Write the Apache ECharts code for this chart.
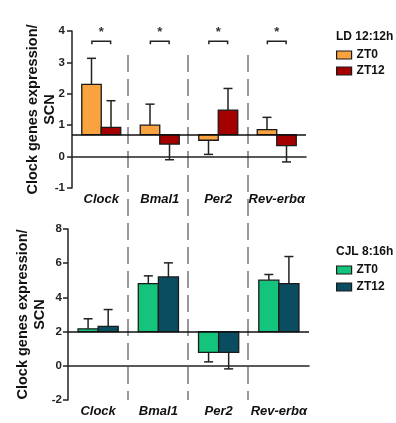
<!DOCTYPE html>
<html>
<head>
<meta charset="utf-8">
<script src="https://cdn.jsdelivr.net/npm/echarts@6/dist/echarts.min.js"></script>
<style>
  html, body { margin: 0; padding: 0; background: #fff; }
  #chart { width: 396px; height: 423px; }
</style>
</head>
<body>
<div id="chart"></div>
<script>
// categories
var categories = ['Clock', 'Bmal1', 'Per2', 'Rev-erbα'];

// LD 12:12h (top panel), baseline 0.7
var ldBase = 0.7;
var ldZT0 = [2.3, 1.0, 0.52, 0.86];
var ldZT0Err = [3.13, 1.67, 0.07, 1.25];
var ldZT12 = [0.93, 0.4, 1.48, 0.35];
var ldZT12Err = [1.78, -0.1, 2.17, -0.17];
var ldSig = [3.67, 3.67, 3.67, 3.67];

// CJL 8:16h (bottom panel), baseline 2
var cjlBase = 2;
var cjlZT0 = [2.16, 4.8, 0.78, 5.01];
var cjlZT0Err = [2.75, 5.26, 0.23, 5.34];
var cjlZT12 = [2.3, 5.2, 0.78, 4.8];
var cjlZT12Err = [3.29, 6.02, -0.18, 6.39];

var FONT = 'Liberation Sans, Arial, sans-serif';

function rows(vals, errs) {
  var out = [];
  for (var i = 0; i < vals.length; i++) {
    out.push([i, vals[i], errs[i]]);
  }
  return out;
}

// bar drawn from a baseline, with one-sided error bar
function barRender(side, base, color) {
  return function(params, api) {
    var i = api.value(0), v = api.value(1), e = api.value(2);
    var band = api.size([1, 0])[0];
    var w = band / 3;
    var p0 = api.coord([i, base]);
    var p1 = api.coord([i, v]);
    var pe = api.coord([i, e]);
    var x = side < 0 ? p0[0] - w : p0[0];
    var cx = x + w / 2;
    return {
      type: 'group',
      children: [{
        type: 'line',
        shape: { x1: cx, y1: p1[1], x2: cx, y2: pe[1] },
        style: { stroke: '#222', lineWidth: 1.5 }
      }, {
        type: 'line',
        shape: { x1: cx - 4.5, y1: pe[1], x2: cx + 4.5, y2: pe[1] },
        style: { stroke: '#222', lineWidth: 1.5 }
      }, {
        type: 'rect',
        shape: { x: x, y: Math.min(p0[1], p1[1]), width: w, height: Math.abs(p1[1] - p0[1]) },
        style: { fill: color, stroke: '#1a1a1a', lineWidth: 1.3 }
      }]
    };
  };
}

// significance bracket with star
function sigRender(params, api) {
  var i = api.value(0), v = api.value(1);
  var band = api.size([1, 0])[0];
  var half = band * 0.16;
  var p = api.coord([i, v]);
  return {
    type: 'group',
    children: [{
      type: 'polyline',
      shape: { points: [[p[0] - half, p[1] + 3], [p[0] - half, p[1]], [p[0] + half, p[1]], [p[0] + half, p[1] + 3]] },
      style: { stroke: '#222', lineWidth: 1.5, fill: null }
    }, {
      type: 'text',
      style: { text: '*', x: p[0], y: p[1] - 2, align: 'center', verticalAlign: 'bottom', fontSize: 13, fontWeight: 'bold', fontFamily: FONT, fill: '#333' }
    }]
  };
}

function baseLine(base) {
  return {
    silent: true,
    symbol: 'none',
    label: { show: false },
    lineStyle: { color: '#111', type: 'solid', width: 1.5 },
    data: [{ yAxis: base }]
  };
}

function xAx(gi) {
  return {
    type: 'category', gridIndex: gi, data: categories,
    axisLine: { lineStyle: { color: '#222', width: 1.5 } },
    axisTick: { alignWithLabel: true, length: 4, lineStyle: { color: '#222', width: 1.5 } },
    axisLabel: { interval: 0, color: '#111', fontSize: 13, fontWeight: 'bold', fontStyle: 'italic', fontFamily: FONT, margin: 5 },
    splitLine: { show: false }
  };
}

function yAx(gi, min, max, interval, gap, margin) {
  return {
    type: 'value', gridIndex: gi, min: min, max: max, interval: interval,
    name: 'Clock genes expression/\nSCN',
    nameLocation: 'middle', nameRotate: 90, nameGap: gap, nameMoveOverlap: false,
    nameTextStyle: { color: '#111', fontSize: 14.5, fontWeight: 'bold', fontFamily: FONT, lineHeight: 17 },
    axisLine: { show: true, lineStyle: { color: '#222', width: 1.5 } },
    axisTick: { show: true, length: 5, lineStyle: { color: '#222', width: 1.5 } },
    axisLabel: { color: '#222', fontSize: 11.5, fontWeight: 'bold', fontFamily: FONT, margin: margin },
    splitLine: { show: false }
  };
}

var chart = echarts.init(document.getElementById('chart'));
chart.setOption({
  animation: false,
  backgroundColor: '#fff',
  title: [{
    text: 'LD 12:12h', left: 331, top: 26,
    textStyle: { fontSize: 12, fontWeight: 'bold', fontFamily: FONT, color: '#111' }
  }, {
    text: 'CJL 8:16h', left: 331, top: 241,
    textStyle: { fontSize: 12, fontWeight: 'bold', fontFamily: FONT, color: '#111' }
  }],
  legend: [{
    data: ['ZT0', 'ZT12'], orient: 'vertical', left: 331, top: 44,
    itemWidth: 15, itemHeight: 8, itemGap: 4, icon: 'rect',
    itemStyle: { borderColor: '#1a1a1a', borderWidth: 1.2 },
    textStyle: { fontSize: 12, fontWeight: 'bold', fontFamily: FONT, color: '#111' },
    selectedMode: false
  }, {
    data: ['CJL ZT0', 'CJL ZT12'], orient: 'vertical', left: 331, top: 259,
    itemWidth: 15, itemHeight: 8, itemGap: 5, icon: 'rect',
    itemStyle: { borderColor: '#1a1a1a', borderWidth: 1.2 },
    formatter: function(n) { return n.replace('CJL ', ''); },
    textStyle: { fontSize: 12, fontWeight: 'bold', fontFamily: FONT, color: '#111' },
    selectedMode: false
  }],
  grid: [
    { left: 72, top: 31, width: 234, height: 157 },
    { left: 68, top: 229, width: 241, height: 171 },
    { left: 128, top: 55, width: 120, height: 345 }
  ],
  xAxis: [xAx(0), xAx(1), {
    type: 'value', gridIndex: 2, min: 0, max: 2, interval: 1,
    axisLine: { show: false }, axisTick: { show: false }, axisLabel: { show: false },
    splitLine: { show: true, lineStyle: { color: '#777', width: 1.5, type: [17, 7] } }
  }],
  yAxis: [yAx(0, -1, 4, 1, 14, 7), yAx(1, -2, 8, 2, 20, 6), { type: 'value', gridIndex: 2, show: false }],
  series: [{
    name: 'ZT0', type: 'custom', xAxisIndex: 0, yAxisIndex: 0,
    itemStyle: { color: '#f9a240' },
    renderItem: barRender(-1, ldBase, '#f9a240'),
    data: rows(ldZT0, ldZT0Err),
    markLine: baseLine(ldBase), z: 3
  }, {
    name: 'ZT12', type: 'custom', xAxisIndex: 0, yAxisIndex: 0,
    itemStyle: { color: '#a40000' },
    renderItem: barRender(1, ldBase, '#a40000'),
    data: rows(ldZT12, ldZT12Err), z: 3
  }, {
    name: 'sig', type: 'custom', xAxisIndex: 0, yAxisIndex: 0,
    renderItem: sigRender,
    data: ldSig.map(function(v, i) { return [i, v]; })
  }, {
    name: 'CJL ZT0', type: 'custom', xAxisIndex: 1, yAxisIndex: 1,
    itemStyle: { color: '#14c47c' },
    renderItem: barRender(-1, cjlBase, '#14c47c'),
    data: rows(cjlZT0, cjlZT0Err),
    markLine: baseLine(cjlBase), z: 3
  }, {
    name: 'CJL ZT12', type: 'custom', xAxisIndex: 1, yAxisIndex: 1,
    itemStyle: { color: '#0b4d60' },
    renderItem: barRender(1, cjlBase, '#0b4d60'),
    data: rows(cjlZT12, cjlZT12Err), z: 3
  }]
});
</script>
</body>
</html>
